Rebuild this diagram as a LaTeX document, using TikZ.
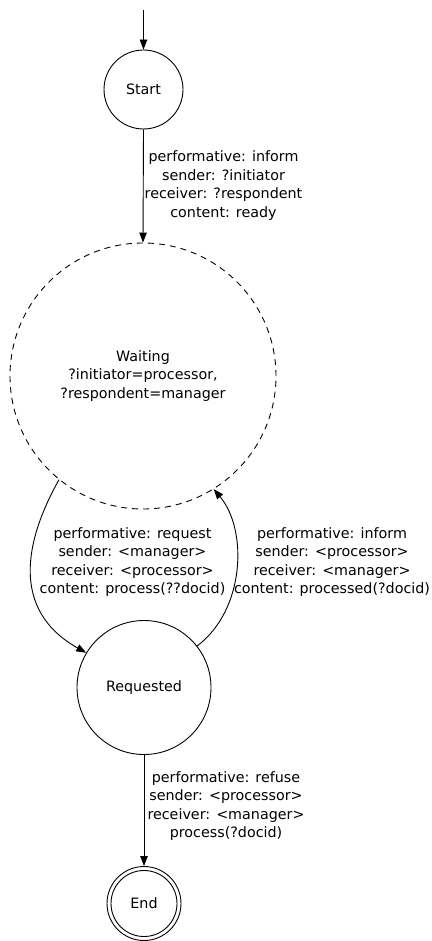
\documentclass[tikz,border=0pt]{standalone}
\usepackage{fontspec}
\setmainfont{DejaVu Sans}
\usetikzlibrary{arrows.meta}
\begin{document}
\begin{tikzpicture}[x=1pt,y=-1pt,
  every node/.style={font=\fontsize{14.3}{18.6}\selectfont, align=center, inner sep=0pt},
  state/.style={draw, circle, line width=0.9pt, minimum size=#1},
  lbl/.style={},
  conn/.style={line width=0.9pt, -{Triangle[length=10pt,width=7.5pt]}}
]
\useasboundingbox (0,0) rectangle (431,941);
\coordinate (top) at (143.5,10);
\node[state=79pt] (S) at (143.5,89.5) {Start};
\node[state=266pt, dashed, dash pattern=on 6pt off 5pt] (W) at (143,376) {Waiting\\?initiator=processor,\\?respondent=manager};
\node[state=134pt] (R) at (144,687.5) {Requested};
\node[state=74pt] (E) at (144,903.5) {End};
\draw[line width=0.9pt] (E.center) circle (33pt);

\draw[conn] (top) -- (S.north);
\draw[conn] (S.south) -- (W.north);
\draw[conn] (W.231.4) .. controls (25,540) and (10,610) .. (R.149.6);
\draw[conn] (R.38.4) .. controls (245,610) and (248,530) .. (W.-58);
\draw[conn] (R.south) -- (E.north);

\node[lbl] (l1) at (223.5,185.5) {performative: inform\\sender: ?initiator\\receiver: ?respondent\\content: ready};
\node[lbl] (l2) at (132.5,562) {performative: request\\sender: <manager>\\receiver: <processor>\\content: process(??docid)};
\node[lbl] (l3) at (332,562) {performative: inform\\sender: <processor>\\receiver: <manager>\\content: processed(?docid)};
\node[lbl] (l4) at (226,806) {performative: refuse\\sender: <processor>\\receiver: <manager>\\process(?docid)};
\end{tikzpicture}
\end{document}
